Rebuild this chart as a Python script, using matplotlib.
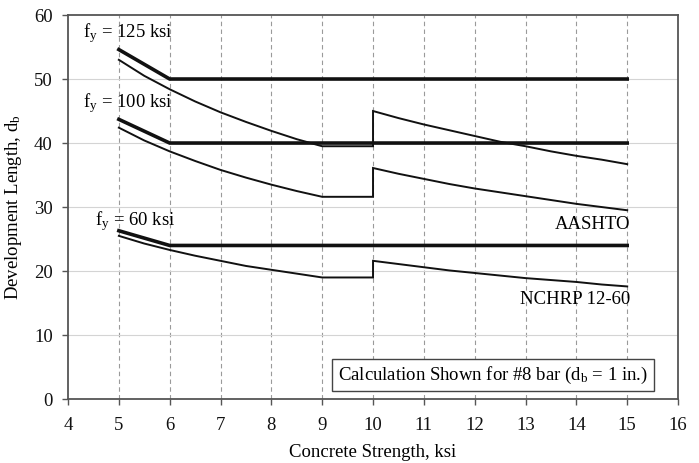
import matplotlib
matplotlib.use("Agg")
import matplotlib.pyplot as plt

plt.rcParams["font.family"] = ["Liberation Serif", "DejaVu Serif"]
plt.rcParams["mathtext.fontset"] = "custom"
plt.rcParams["mathtext.rm"] = "Liberation Serif"
plt.rcParams["mathtext.it"] = "Liberation Serif"

# AASHTO limits (thick): linear drop from 5 to 6 ksi, then constant
aashto_x = [5, 6, 15]
aashto_125 = [54.6, 50.0, 50.0]
aashto_100 = [43.7, 40.0, 40.0]
aashto_60 = [26.3, 24.0, 24.0]

# NCHRP 12-60 (thin): plateau between 9 and 10 ksi, step up at 10 ksi
nchrp_x = [5, 5.5, 6, 6.5, 7, 7.5, 8, 8.5, 9, 10,
           10, 10.5, 11, 11.5, 12, 12.5, 13, 13.5, 14, 14.5, 15]
nchrp_125 = [53.0, 50.5, 48.4, 46.5, 44.8, 43.3, 41.9, 40.6, 39.5, 39.5,
             45.0, 43.9, 42.9, 42.0, 41.1, 40.2, 39.5, 38.7, 38.0, 37.4, 36.7]
nchrp_100 = [42.4, 40.4, 38.7, 37.2, 35.8, 34.6, 33.5, 32.5, 31.6, 31.6,
             36.1, 35.2, 34.4, 33.6, 32.9, 32.3, 31.7, 31.1, 30.5, 30.0, 29.5]
nchrp_60 = [25.5, 24.3, 23.3, 22.4, 21.6, 20.8, 20.2, 19.6, 19.0, 19.0,
            21.6, 21.1, 20.6, 20.1, 19.7, 19.3, 18.9, 18.6, 18.3, 17.9, 17.6]

x_ticks = list(range(4, 17))
y_ticks = list(range(0, 61, 10))

fig = plt.figure(figsize=(6.99, 4.63), dpi=100)
ax = fig.add_axes([0.0973, 0.138, 0.8727, 0.8296])

for xv in range(5, 16):
    ax.axvline(xv, color="#9a9a9a", lw=0.8, ls=(0, (4, 3)), zorder=1)
for yv in range(10, 60, 10):
    ax.axhline(yv, color="#d4d4d4", lw=0.8, zorder=1)

for ys in (aashto_125, aashto_100, aashto_60):
    ax.plot(aashto_x, ys, color="#111111", lw=2.6, solid_joinstyle="miter", zorder=3)
for ys in (nchrp_125, nchrp_100, nchrp_60):
    ax.plot(nchrp_x, ys, color="#111111", lw=1.4, solid_joinstyle="miter", zorder=3)

fs = 13.5
ax.text(4.3, 57.2, r"f$_\mathrm{y}$ = 125 ksi", fontsize=fs, va="center", ha="left", zorder=4)
ax.text(4.3, 46.2, r"f$_\mathrm{y}$ = 100 ksi", fontsize=fs, va="center", ha="left", zorder=4)
ax.text(4.53, 27.8, r"f$_\mathrm{y}$ = 60 ksi", fontsize=fs, va="center", ha="left", zorder=4)
ax.text(15.06, 27.2, "AASHTO", fontsize=fs, va="center", ha="right", zorder=4)
ax.text(15.06, 15.5, "NCHRP 12-60", fontsize=fs, va="center", ha="right", zorder=4)
ax.text(12.36, 3.75, r"Calculation Shown for #8 bar (d$_\mathrm{b}$ = 1 in.)",
        fontsize=fs, va="center", ha="center", zorder=5,
        bbox=dict(boxstyle="square,pad=0.3", fc="white", ec="#444444", lw=1.0))

ax.set_xlim(4, 16)
ax.set_ylim(0, 60)
ax.set_xticks(x_ticks)
ax.set_yticks(y_ticks)
ax.tick_params(direction="out", length=4, width=1, colors="#555555",
               labelcolor="#111111", labelsize=fs, pad=7)
ax.tick_params(axis="x", pad=9)
for sp in ax.spines.values():
    sp.set_color("#555555")
    sp.set_linewidth(1.3)

ax.set_xlabel("Concrete Strength, ksi", fontsize=fs, labelpad=7)
ax.set_ylabel(r"Development Length, d$_\mathrm{b}$", fontsize=fs, labelpad=7)

fig.savefig("out.png", dpi=100, facecolor="white")
